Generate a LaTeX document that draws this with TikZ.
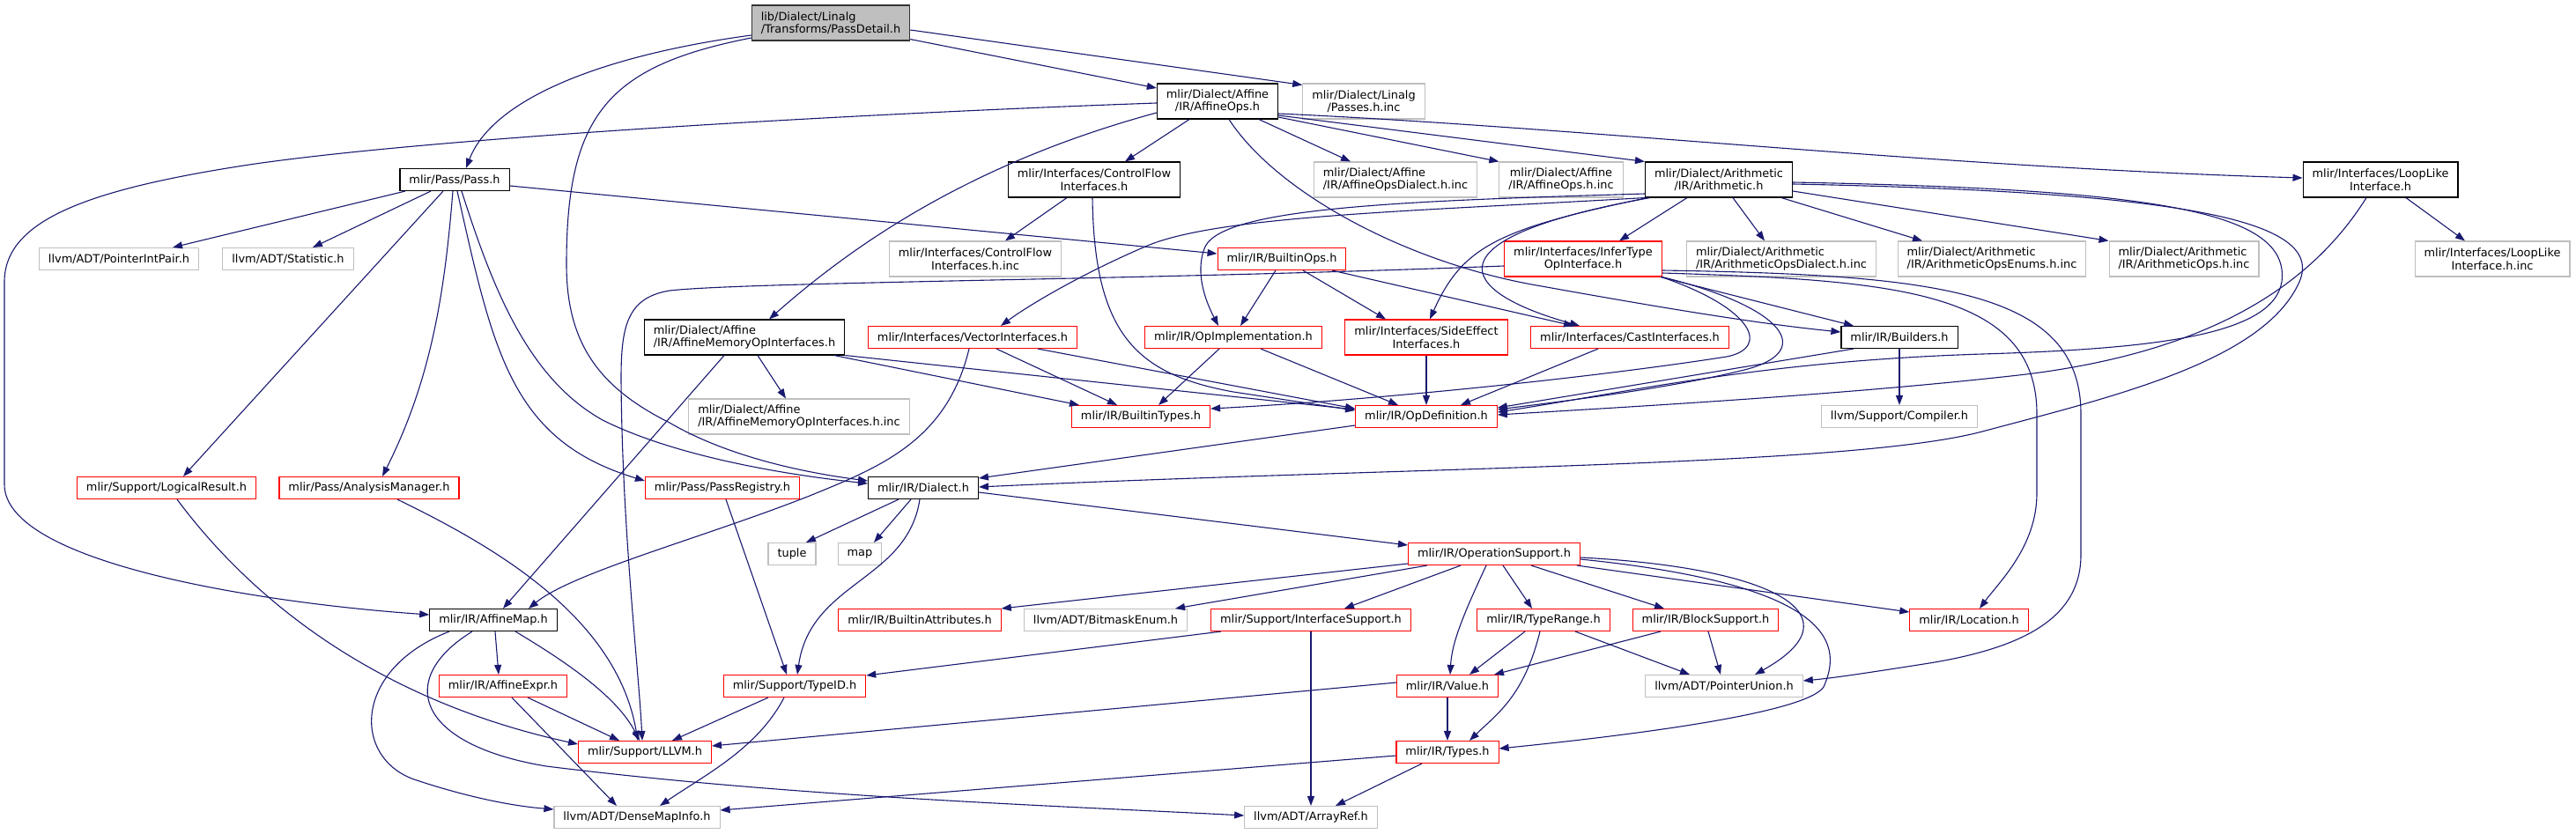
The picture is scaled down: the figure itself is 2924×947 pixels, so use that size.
\documentclass[tikz,border=0pt]{standalone}
\usepackage{fontspec}
\setmainfont{DejaVu Sans}
\usetikzlibrary{arrows.meta}
\definecolor{edgeblue}{HTML}{191970}
\definecolor{truncred}{HTML}{FF0000}
\definecolor{extgray}{HTML}{BFBFBF}

\begin{document}
\begin{tikzpicture}[
  x=1pt, y=-1pt,
  hbox/.style={draw,line width=1.1pt,inner xsep=10.5pt,inner ysep=3pt,
    minimum height=25pt,font=\fontsize{12.9}{14.5}\selectfont,fill=white},
  two/.style={minimum height=40pt},
  docbox/.style={hbox,draw=black},
  redbox/.style={hbox,draw=truncred},
  greybox/.style={hbox,draw=extgray},
  rootbox/.style={hbox,draw=black!80,fill=extgray},
  dep/.style={-{Triangle[length=11pt,width=8pt]},draw=edgeblue,line width=1.1pt}
]
\useasboundingbox (0,0) rectangle (2924,947);

\node[rootbox,two,align=left] (passdetail) at (943,26) {lib/Dialect/Linalg\\/Transforms/PassDetail.h};
\node[docbox] (pass) at (516,204) {mlir/Pass/Pass.h};
\node[greybox] (pointerintpair) at (135,294) {llvm/ADT/PointerIntPair.h};
\node[greybox] (statistic) at (327,294) {llvm/ADT/Statistic.h};
\node[docbox,two,align=center] (affineops) at (1382,115) {mlir/Dialect/Affine\\/IR/AffineOps.h};
\node[greybox,two,align=center] (passesinc) at (1548,115) {mlir/Dialect/Linalg\\/Passes.h.inc};
\node[docbox,two,align=center] (controlflow) at (1242,204) {mlir/Interfaces/ControlFlow\\Interfaces.h};
\node[greybox,two,align=center] (controlflowinc) at (1107,294) {mlir/Interfaces/ControlFlow\\Interfaces.h.inc};
\node[redbox] (builtinops) at (1455,294) {mlir/IR/BuiltinOps.h};
\node[greybox,two,align=left] (affopsdialectinc) at (1584,204) {mlir/Dialect/Affine\\/IR/AffineOpsDialect.h.inc};
\node[greybox,two,align=center] (affopsinc) at (1772,204) {mlir/Dialect/Affine\\/IR/AffineOps.h.inc};
\node[docbox,two,align=center] (arith) at (1951,204) {mlir/Dialect/Arithmetic\\/IR/Arithmetic.h};
\node[docbox,two,align=center] (looplike) at (2702,204) {mlir/Interfaces/LoopLike\\Interface.h};
\node[greybox,two,align=center] (looplikeinc) at (2829,294) {mlir/Interfaces/LoopLike\\Interface.h.inc};
\node[redbox,two,align=center] (infertype) at (1797,294) {mlir/Interfaces/InferType\\OpInterface.h};
\node[greybox,two,align=left] (arithdialectinc) at (2022,294) {mlir/Dialect/Arithmetic\\/IR/ArithmeticOpsDialect.h.inc};
\node[greybox,two,align=left] (arithenumsinc) at (2261,294) {mlir/Dialect/Arithmetic\\/IR/ArithmeticOpsEnums.h.inc};
\node[greybox,two,align=left] (arithopsinc) at (2479,294) {mlir/Dialect/Arithmetic\\/IR/ArithmeticOps.h.inc};
\node[docbox,two,align=left] (affmemop) at (845,383) {mlir/Dialect/Affine\\/IR/AffineMemoryOpInterfaces.h};
\node[redbox] (vectorif) at (1104,383) {mlir/Interfaces/VectorInterfaces.h};
\node[redbox] (opimpl) at (1400,383) {mlir/IR/OpImplementation.h};
\node[redbox,two,align=center] (sideeffect) at (1619,383) {mlir/Interfaces/SideEffect\\Interfaces.h};
\node[redbox] (castif) at (1850,383) {mlir/Interfaces/CastInterfaces.h};
\node[docbox] (builders) at (2156,383) {mlir/IR/Builders.h};
\node[greybox,two,align=left] (affmemopinc) at (907,473) {mlir/Dialect/Affine\\/IR/AffineMemoryOpInterfaces.h.inc};
\node[redbox] (builtintypes) at (1295,473) {mlir/IR/BuiltinTypes.h};
\node[redbox] (opdef) at (1619,473) {mlir/IR/OpDefinition.h};
\node[greybox] (compiler) at (2156,473) {llvm/Support/Compiler.h};
\node[redbox] (logicalresult) at (189,554) {mlir/Support/LogicalResult.h};
\node[redbox] (analysismgr) at (419,554) {mlir/Pass/AnalysisManager.h};
\node[redbox] (passregistry) at (820,554) {mlir/Pass/PassRegistry.h};
\node[docbox] (dialect) at (1048,554) {mlir/IR/Dialect.h};
\node[greybox] (tuple) at (899,629) {tuple};
\node[greybox] (map) at (976,629) {map};
\node[redbox] (opsupport) at (1696,629) {mlir/IR/OperationSupport.h};
\node[docbox] (affinemap) at (560,704) {mlir/IR/AffineMap.h};
\node[redbox] (builtinattrs) at (1044,704) {mlir/IR/BuiltinAttributes.h};
\node[greybox] (bitmask) at (1255,704) {llvm/ADT/BitmaskEnum.h};
\node[redbox] (ifacesupport) at (1488,704) {mlir/Support/InterfaceSupport.h};
\node[redbox] (typerange) at (1752,704) {mlir/IR/TypeRange.h};
\node[redbox] (blocksupport) at (1936,704) {mlir/IR/BlockSupport.h};
\node[redbox] (location) at (2235,704) {mlir/IR/Location.h};
\node[redbox] (affineexpr) at (571,779) {mlir/IR/AffineExpr.h};
\node[redbox] (typeid) at (902,779) {mlir/Support/TypeID.h};
\node[redbox] (value) at (1643,779) {mlir/IR/Value.h};
\node[greybox] (pointerunion) at (1957,779) {llvm/ADT/PointerUnion.h};
\node[redbox] (llvm) at (732,854) {mlir/Support/LLVM.h};
\node[redbox] (types) at (1643,854) {mlir/IR/Types.h};
\node[greybox] (densemapinfo) at (723,928) {llvm/ADT/DenseMapInfo.h};
\node[greybox] (arrayref) at (1488,928) {llvm/ADT/ArrayRef.h};

\draw[dep] ([yshift=-14pt]passdetail.west) .. controls (690,62) and (560,110) .. ([xshift=13pt]pass.north);
\draw[dep] ([yshift=-17pt]passdetail.west) .. controls (690,75) and (643,130) .. (643,300) .. controls (643,390) and (680,440) .. (760,480) .. controls (820,515) and (900,535) .. ([yshift=8pt]dialect.west);
\draw[dep] ([yshift=2pt]passdetail.south east) -- ([yshift=15pt]affineops.west);
\draw[dep] ([yshift=-8pt]passdetail.east) -- ([yshift=-2pt]passesinc.north west);

\draw[dep] ([xshift=-56pt]pass.south) -- ([xshift=61pt]pointerintpair.north);
\draw[dep] ([xshift=-27pt]pass.south) -- ([xshift=28pt]statistic.north);
\draw[dep] ([yshift=-7pt]pass.east) -- ([yshift=6pt]builtinops.west);
\draw[dep] ([xshift=-13pt]pass.south) -- ([xshift=19pt]logicalresult.north);
\draw[dep] ([xshift=-2pt]pass.south) .. controls (505,330) and (490,430) .. ([xshift=15pt]analysismgr.north);
\draw[dep] ([xshift=3pt]pass.south) .. controls (560,400) and (580,500) .. ([yshift=8pt]passregistry.west);
\draw[dep] ([xshift=8pt]pass.south) .. controls (560,330) and (600,430) .. (684,477) .. controls (770,520) and (900,540) .. ([yshift=5pt]dialect.west);

\draw[dep] ([yshift=-2pt]affineops.west) .. controls (1000,128) and (500,155) .. (283,187) .. controls (100,215) and (5,250) .. (5,320) -- (5,550) .. controls (5,640) and (300,685) .. ([yshift=6pt]affinemap.west);
\draw[dep] ([yshift=-13pt]affineops.west) .. controls (1140,175) and (1000,250) .. ([xshift=28pt]affmemop.north);
\draw[dep] ([xshift=-32pt]affineops.south) -- ([xshift=35pt]controlflow.north);
\draw[dep] ([xshift=47pt]affineops.south) -- ([xshift=-51pt]affopsdialectinc.north);
\draw[dep] ([yshift=-18pt]affineops.east) -- (affopsinc.north west);
\draw[dep] ([yshift=-16pt]affineops.east) -- (arith.north west);
\draw[dep] ([yshift=-14pt]affineops.east) .. controls (1800,145) and (2200,190) .. ([yshift=2pt]looplike.west);
\draw[dep] ([xshift=13pt]affineops.south) .. controls (1450,220) and (1600,300) .. (1750,325) .. controls (1900,352) and (2000,368) .. ([yshift=6pt]builders.west);

\draw[dep] ([xshift=-31pt]controlflow.south) -- ([xshift=34pt]controlflowinc.north);
\draw[dep] ([xshift=-2pt]controlflow.south) .. controls (1242,380) and (1290,425) .. (1400,445) -- ([yshift=7pt]opdef.west);
\draw[dep] ([xshift=29pt]looplike.south) -- ([xshift=-31pt]looplikeinc.north);
\draw[dep] ([xshift=-16pt]looplike.south) .. controls (2620,330) and (2500,400) .. (2300,425) .. controls (2100,448) and (1850,462) .. ([yshift=2pt]opdef.east);

\draw[dep] ([xshift=-36pt]arith.south) -- ([xshift=41pt]infertype.north);
\draw[dep] ([xshift=16pt]arith.south) -- ([xshift=-19pt]arithdialectinc.north);
\draw[dep] ([xshift=71pt]arith.south) -- ([xshift=-79pt]arithenumsinc.north);
\draw[dep] ([yshift=-13pt]arith.east) -- (arithopsinc.north west);
\draw[dep] (arith.south west) .. controls (1600,240) and (1380,245) .. (1300,280) .. controls (1230,310) and (1170,345) .. ([xshift=32pt]vectorif.north);
\draw[dep] ([yshift=-16pt]arith.west) .. controls (1600,228) and (1390,235) .. (1368,280) .. controls (1355,310) and (1370,345) .. ([xshift=-17pt]opimpl.north);
\draw[dep] ([xshift=3pt]arith.south west) .. controls (1700,260) and (1660,280) .. ([xshift=4pt]sideeffect.north);
\draw[dep] ([xshift=6pt]arith.south west) .. controls (1620,270) and (1650,330) .. ([xshift=-57pt]castif.north);
\draw[dep] ([yshift=-3pt]arith.east) .. controls (2450,215) and (2600,240) .. (2590,320) .. controls (2580,380) and (2450,396) .. (2250,402) .. controls (2000,410) and (1850,445) .. ([yshift=5pt]opdef.east);
\draw[dep] ([yshift=-5pt]arith.east) .. controls (2480,218) and (2640,250) .. (2610,320) .. controls (2570,410) and (2400,450) .. (2250,490) .. controls (2100,530) and (1600,530) .. ([yshift=1pt]dialect.east);

\draw[dep] ([xshift=-7pt]builtinops.south) -- ([xshift=8pt]opimpl.north);
\draw[dep] ([xshift=24pt]builtinops.south) -- ([xshift=-46pt]sideeffect.north);
\draw[dep] ([xshift=57pt]builtinops.south) -- ([xshift=-64pt]castif.north);

\draw[dep] ([xshift=88pt]infertype.south) -- ([xshift=-52pt]builders.north);
\draw[dep] (infertype.south east) .. controls (2030,350) and (2060,400) .. (1980,420) .. controls (1900,440) and (1780,455) .. ([yshift=8pt]opdef.east);
\draw[dep] ([xshift=89pt]infertype.south) .. controls (1990,350) and (2010,395) .. (1960,405) .. controls (1800,430) and (1550,455) .. ([yshift=9pt]builtintypes.east);
\draw[dep] ([yshift=-8pt]infertype.west) .. controls (1300,318) and (850,320) .. (760,330) .. controls (712,338) and (705,370) .. (705,430) .. controls (706,600) and (725,760) .. ([xshift=-3pt]llvm.north);
\draw[dep] ([yshift=-16pt]infertype.east) .. controls (2150,318) and (2312,330) .. (2312,470) -- (2312,560) .. controls (2312,620) and (2270,660) .. ([xshift=12pt]location.north);
\draw[dep] ([yshift=-13pt]infertype.east) .. controls (2200,312) and (2362,330) .. (2362,470) -- (2362,630) .. controls (2362,700) and (2300,735) .. (2190,753) .. controls (2120,764) and (2080,770) .. ([yshift=6pt]pointerunion.east);

\draw[dep] ([xshift=15pt]affmemop.south) -- ([xshift=-15pt]affmemopinc.north);
\draw[dep] ([xshift=102pt]affmemop.south) -- ([xshift=-70pt]builtintypes.north);
\draw[dep] (affmemop.south east) -- ([yshift=8pt]opdef.west);
\draw[dep] ([xshift=-23pt]affmemop.south) -- ([xshift=11pt]affinemap.north);

\draw[dep] ([xshift=27pt]vectorif.south) -- ([xshift=-27pt]builtintypes.north);
\draw[dep] ([xshift=74pt]vectorif.south) -- ([yshift=9pt]opdef.west);
\draw[dep] ([xshift=-4pt]vectorif.south) .. controls (1075,500) and (1000,530) .. (919,563) .. controls (800,610) and (650,650) .. ([xshift=40pt]affinemap.north);

\draw[dep] ([xshift=-16pt]opimpl.south) -- ([xshift=20pt]builtintypes.north);
\draw[dep] ([xshift=31pt]opimpl.south) -- ([xshift=-32pt]opdef.north);
\draw[dep] (sideeffect) -- (opdef);
\draw[dep] ([xshift=-36pt]castif.south) -- ([xshift=39pt]opdef.north);
\draw[dep] ([xshift=-52pt]builders.south) -- ([yshift=10pt]opdef.east);
\draw[dep] (builders) -- (compiler);
\draw[dep] ([yshift=-10pt]opdef.west) -- ([yshift=11pt]dialect.east);

\draw[dep] ([xshift=-28pt]dialect.south) -- ([xshift=16pt]tuple.north);
\draw[dep] ([xshift=-14pt]dialect.south) -- ([xshift=16pt]map.north);
\draw[dep] ([xshift=-4pt]dialect.south) .. controls (1030,660) and (920,660) .. ([xshift=3pt]typeid.north);
\draw[dep] ([yshift=-5pt]dialect.east) -- ([yshift=10pt]opsupport.west);
\draw[dep] ([xshift=4pt]passregistry.south) -- ([xshift=-9pt]typeid.north);

\draw[dep] ([xshift=12pt]logicalresult.south) .. controls (300,700) and (450,800) .. ([yshift=9pt]llvm.west);
\draw[dep] ([xshift=32pt]analysismgr.south) .. controls (560,620) and (700,700) .. ([xshift=-8pt]llvm.north);

\draw[dep] ([xshift=2pt]affinemap.south) -- ([xshift=-5pt]affineexpr.north);
\draw[dep] ([xshift=25pt]affinemap.south) .. controls (640,750) and (700,790) .. ([xshift=-6pt]llvm.north);
\draw[dep] ([xshift=-50pt]affinemap.south) .. controls (400,760) and (400,860) .. (470,885) .. controls (530,905) and (580,915) .. ([yshift=9pt]densemapinfo.west);
\draw[dep] ([xshift=-24pt]affinemap.south) .. controls (450,770) and (470,845) .. (620,870) .. controls (900,905) and (1200,915) .. ([yshift=2pt]arrayref.west);
\draw[dep] ([xshift=28pt]affineexpr.south) -- ([xshift=-29pt]llvm.north);
\draw[dep] ([xshift=10pt]affineexpr.south) -- ([xshift=-23pt]densemapinfo.north);

\draw[dep] ([xshift=-30pt]typeid.south) -- ([xshift=31pt]llvm.north);
\draw[dep] ([xshift=-12pt]typeid.south) .. controls (860,850) and (800,880) .. ([xshift=26pt]densemapinfo.north);

\draw[dep] ([yshift=-11pt]opsupport.west) -- (builtinattrs.north east);
\draw[dep] ([xshift=-76pt]opsupport.south) -- ([xshift=79pt]bitmask.north);
\draw[dep] ([xshift=-38pt]opsupport.south) -- ([xshift=38pt]ifacesupport.north);
\draw[dep] ([xshift=-9pt]opsupport.south) .. controls (1660,700) and (1648,730) .. ([xshift=3pt]value.north);
\draw[dep] ([xshift=10pt]opsupport.south) -- ([xshift=-13pt]typerange.north);
\draw[dep] ([xshift=42pt]opsupport.south) -- ([xshift=-47pt]blocksupport.north);
\draw[dep] ([xshift=94pt]opsupport.south) -- ([yshift=9pt]location.west);
\draw[dep] ([yshift=-4pt]opsupport.east) .. controls (2020,645) and (2110,700) .. ([xshift=35pt]pointerunion.north);
\draw[dep] ([yshift=-6pt]opsupport.east) .. controls (2090,665) and (2090,735) .. (2070,780) .. controls (2050,810) and (1850,835) .. ([yshift=4pt]types.east);

\draw[dep] ([xshift=-102pt]ifacesupport.south) -- ([yshift=12pt]typeid.east);
\draw[dep] (ifacesupport) -- (arrayref);
\draw[dep] ([xshift=-21pt]typerange.south) -- ([xshift=25pt]value.north);
\draw[dep] ([xshift=-4pt]typerange.south) .. controls (1730,790) and (1700,810) .. ([xshift=25pt]types.north);
\draw[dep] ([xshift=36pt]typerange.south) -- ([xshift=-39pt]pointerunion.north);
\draw[dep] ([xshift=-51pt]blocksupport.south) -- ([xshift=53pt]value.north);
\draw[dep] ([xshift=3pt]blocksupport.south) -- ([xshift=-4pt]pointerunion.north);

\draw[dep] (value) -- (types);
\draw[dep] ([yshift=4pt]value.west) -- ([yshift=7pt]llvm.east);
\draw[dep] ([yshift=-4pt]types.west) -- ([yshift=8pt]densemapinfo.east);
\draw[dep] ([xshift=-29pt]types.south) -- ([xshift=28pt]arrayref.north);
\end{tikzpicture}
\end{document}
